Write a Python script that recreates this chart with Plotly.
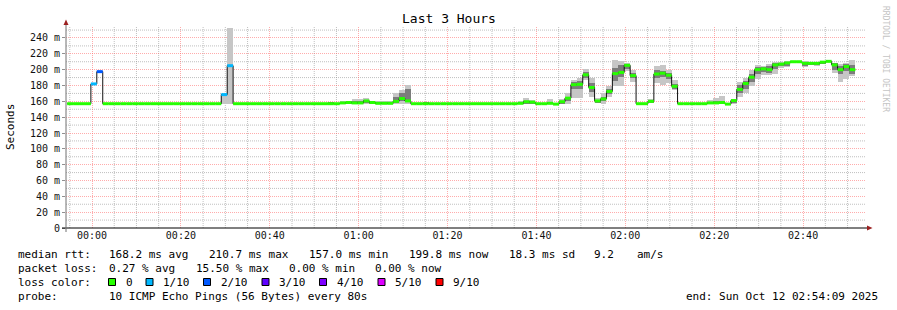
import plotly.graph_objects as go
from datetime import datetime, timedelta

# ---------------- data ----------------
STEP_SECONDS = 80
first_step_start = datetime(2025, 10, 11, 23, 54, 25)
x_range = ["2025-10-11 23:54:09", "2025-10-12 02:54:09"]

# median rtt per 80 s step (ms)
median_ms = [
    157, 157, 157, 157, 182, 197.5, 157, 157, 157, 157,
    157, 157, 157, 157, 157, 157, 157, 157, 157, 157,
    157, 157, 157, 157, 157, 157, 168.5, 205, 157, 157,
    157, 157, 157, 157, 157, 157, 157, 157, 157, 157,
    157, 157, 157, 157, 157, 157, 158, 158.5, 158, 158,
    160.5, 158.5, 157.5, 157.5, 157.5, 160, 163.5, 160.5, 157, 157,
    157, 157, 157, 157, 157, 157, 157, 157, 157, 157,
    157, 157, 157, 157, 157, 157, 157.5, 159.5, 159, 157,
    157, 157.5, 156.5, 159.5, 164, 181, 181.5, 193.5, 177.5, 160.5,
    163, 172.5, 195, 196.5, 205.5, 192.5, 157, 157, 160, 194.5,
    195.5, 193, 179, 157, 157, 157, 157, 157, 158, 158,
    158.5, 156.5, 161, 175, 182.5, 190.5, 200, 201, 200, 206,
    207, 208.5, 210, 210, 208, 208, 208, 209.5, 210.5, 206,
    200, 204, 200,
]

# steps with lost pings (index into median_ms) and number lost out of 10
loss_steps = [4, 5, 26, 27]
loss_counts = [1, 2, 1, 1]

# smoke (spread of the 10 pings) for steps where it is visible
smoke_steps = [26, 27, 44, 46, 47, 48, 49, 50, 51, 52, 53, 54, 55, 56, 57, 60,
               76, 77, 78, 81,
               83, 84, 85, 86, 87, 88, 89, 90, 91, 92, 93, 94, 95,
               98, 99, 100, 101, 102,
               108, 109, 110,
               112, 113, 114, 115, 116, 117, 118, 119, 120, 121,
               124, 125, 126, 127,
               129, 130, 131, 132]
smoke_lo = [156, 156, 156, 156, 156, 156, 156, 156, 156, 156, 156, 156, 156, 156, 156, 156,
            156, 156, 156, 156,
            156, 157, 164, 164, 187, 166, 157.5, 156, 166, 179, 179, 198, 185,
            157.5, 183, 181, 183, 174.5,
            157, 157, 157,
            157, 166, 170.5, 179, 188, 193.5, 193.5, 195, 202, 203.5,
            203.5, 207, 205, 207,
            196, 185, 188, 191.5]
smoke_hi = [169, 253, 159.5, 160, 161, 163, 163, 164.5, 161, 160.5, 160.5, 160.5, 170.5, 174.5, 181, 159.5,
            160.5, 164.5, 162, 163,
            163, 170.5, 186.5, 189.5, 201, 189.5, 164, 170.5, 179.5, 212.5, 211.5, 208.5, 199,
            163, 204, 206, 200, 187,
            162, 164, 167,
            163, 184.5, 189.5, 200, 206, 205, 207.5, 209.5, 209.5, 211.5,
            210.5, 210, 210, 211,
            209, 207.5, 209, 212]
core_lo = [168.5, 205, 157, 157, 157, 157, 157, 158, 157, 157, 157, 157, 158, 160, 161, 157,
           157, 157, 157, 157,
           157, 160, 175, 176, 189, 172, 158, 160, 169, 186, 191, 201, 189,
           158, 189, 191, 188, 176,
           157, 157, 157,
           158, 170, 176, 184, 194, 197, 196, 201, 204, 205,
           205, 207, 206, 208,
           200, 194, 198, 194]
core_hi = [168.5, 205, 158, 159, 160, 160, 160, 162, 159.5, 158.5, 158.5, 158.5, 166, 170, 176, 158,
           158.5, 161, 160, 159,
           161, 166, 185, 186, 197, 183, 162, 166, 176, 202, 206, 207, 196,
           161.5, 199, 198, 196, 182,
           159, 160, 161,
           161, 180, 186, 195, 203, 203, 204, 208, 208.5, 210,
           209.5, 209, 209.5, 210,
           208, 204, 207, 206]

loss_levels = [0, 1, 2, 3, 4, 5, 9]
loss_labels = ["0", "1/10", "2/10", "3/10", "4/10", "5/10", "9/10"]
loss_colors = ["#26ff00", "#00b8ff", "#0059ff", "#5e00ff", "#7e00ff", "#dd00ff", "#ff0000"]

y_tick_vals = [0, 20, 40, 60, 80, 100, 120, 140, 160, 180, 200, 220, 240]
y_tick_labels = ["0", "20 m", "40 m", "60 m", "80 m", "100 m", "120 m", "140 m",
                 "160 m", "180 m", "200 m", "220 m", "240 m"]
x_tick_labels = ["00:00", "00:20", "00:40", "01:00", "01:20", "01:40", "02:00", "02:20", "02:40"]
x_tick_vals = ["2025-10-12 " + t + ":00" for t in x_tick_labels]

title_text = "Last 3 Hours"
y_title = "Seconds"
watermark = "RRDTOOL / TOBI OETIKER"
rtt_stats = [("median rtt:", 16), ("168.2 ms avg", 107), ("210.7 ms max", 207),
             ("157.0 ms min", 306.5), ("199.8 ms now", 406.5), ("18.3 ms sd", 507),
             ("9.2", 592), ("am/s", 635)]
loss_stats = [("packet loss:", 16), ("0.27 % avg", 107), ("15.50 % max", 194),
              ("0.00 % min", 286.5), ("0.00 % now", 372.5)]
probe_text = [("probe:", 16), ("10 ICMP Echo Pings (56 Bytes) every 80s", 107)]
end_text = "end: Sun Oct 12 02:54:09 2025"

# ---------------- geometry ----------------
W, H = 897, 310
L, R, T, B = 66, 31, 27, 82
PW, PH = W - L - R, H - T - B
Y_TOP = 201 / 0.7917


def px(x):
    return (x - L) / PW


def py(y):
    return (H - B - y) / PH


MONO = "DejaVu Sans Mono"
grid_dash = "1px,1px"
major_col = "rgba(255,90,90,0.5)"
minor_col = "rgba(140,140,140,0.55)"

step = timedelta(seconds=STEP_SECONDS)
starts = [first_step_start + i * step for i in range(len(median_ms))]
step_ms = STEP_SECONDS * 1000

fig = go.Figure()

shapes = []
annotations = []

# minor grid (5 min / 10 ms) drawn beneath the data
t_grid = datetime(2025, 10, 11, 23, 55)
while t_grid < datetime(2025, 10, 12, 2, 54):
    if t_grid.minute % 20 != 0:
        shapes.append(dict(type="line", xref="x", yref="paper", x0=t_grid, x1=t_grid,
                           y0=0, y1=1, layer="below",
                           line=dict(color=minor_col, width=1, dash=grid_dash)))
    t_grid += timedelta(minutes=5)
for v in range(10, 260, 20):
    shapes.append(dict(type="line", xref="paper", yref="y", x0=0, x1=1, y0=v, y1=v,
                       layer="below", line=dict(color=minor_col, width=1, dash=grid_dash)))

# smoke
s_x = [starts[k] for k in smoke_steps]
fig.add_trace(go.Bar(x=s_x, y=[h - l for h, l in zip(smoke_hi, smoke_lo)], base=smoke_lo,
                     width=step_ms, offset=0, marker=dict(color="#c6c6c6", line=dict(width=0)),
                     hoverinfo="skip", showlegend=False))
fig.add_trace(go.Bar(x=s_x, y=[h - l for h, l in zip(core_hi, core_lo)], base=core_lo,
                     width=step_ms, offset=0, marker=dict(color="#7c7c7c", line=dict(width=0)),
                     hoverinfo="skip", showlegend=False))

# black median step line
fig.add_trace(go.Scatter(x=starts + [starts[-1] + step], y=median_ms + [median_ms[-1]],
                         mode="lines", line=dict(color="#111111", width=1, shape="hv"),
                         hoverinfo="skip", showlegend=False))

# loss coloured median segments
lost = dict(zip(loss_steps, loss_counts))
for lvl, col in zip(loss_levels, loss_colors):
    xs, ys = [], []
    for i, v in enumerate(median_ms):
        if lost.get(i, 0) == lvl:
            xs += [starts[i], starts[i] + step, None]
            ys += [v, v, None]
    if xs:
        fig.add_trace(go.Scatter(x=xs, y=ys, mode="lines", line=dict(color=col, width=3),
                                 hoverinfo="skip", showlegend=False))

# axes lines and arrows
shapes.append(dict(type="line", xref="paper", yref="paper", x0=px(62), x1=px(868),
                   y0=py(228), y1=py(228), line=dict(color="#000000", width=1)))
shapes.append(dict(type="line", xref="paper", yref="paper", x0=px(66), x1=px(66),
                   y0=py(232), y1=py(24), line=dict(color="#707070", width=1)))
shapes.append(dict(type="path", xref="paper", yref="paper",
                   path=f"M {px(63.5)} {py(25)} L {px(68.5)} {py(25)} L {px(66)} {py(19.5)} Z",
                   fillcolor="#9b2020", line=dict(width=0)))
shapes.append(dict(type="path", xref="paper", yref="paper",
                   path=f"M {px(867)} {py(225.5)} L {px(867)} {py(230.5)} L {px(872.5)} {py(228)} Z",
                   fillcolor="#9b2020", line=dict(width=0)))


def add_text(text, x, y, size=11, color="#000000", angle=0, xanchor="left"):
    annotations.append(dict(text=text, x=px(x), y=py(y), xref="paper", yref="paper",
                            xanchor=xanchor, yanchor="middle", showarrow=False,
                            textangle=angle, font=dict(family=MONO, size=size, color=color)))


for t, x in rtt_stats:
    add_text(t, x, 254.5)
for t, x in loss_stats:
    add_text(t, x, 268.5)
add_text("loss color:", 16, 282)
legend_box_x = [108.5, 146, 203.5, 262, 319.5, 378, 436]
for (lbl, col, bx) in zip(loss_labels, loss_colors, legend_box_x):
    shapes.append(dict(type="rect", xref="paper", yref="paper", x0=px(bx), x1=px(bx + 7),
                       y0=py(285.5), y1=py(278.5), fillcolor=col,
                       line=dict(color="#000000", width=1)))
    add_text(lbl, bx + 15, 282)
for t, x in probe_text:
    add_text(t, x, 296)
add_text(end_text, 880, 296, xanchor="right")

add_text(title_text, 448.5, 19, size=13, xanchor="center")
add_text(y_title, 11, 127, size=11, angle=-90, xanchor="center")
add_text(watermark, 886, 59, size=8, color="#c4c4c4", angle=90, xanchor="center")

fig.update_layout(
    width=W, height=H,
    margin=dict(l=L, r=R, t=T, b=B, pad=0),
    paper_bgcolor="#ffffff", plot_bgcolor="#ffffff",
    barmode="overlay", bargap=0,
    showlegend=False,
    shapes=shapes, annotations=annotations,
    font=dict(family=MONO, size=10, color="#000000"),
    xaxis=dict(type="date", range=x_range, tickmode="array", tickvals=x_tick_vals,
               ticktext=x_tick_labels, showgrid=True, gridcolor=major_col,
               griddash=grid_dash, gridwidth=1, zeroline=False, showline=False,
               ticks="", tickfont=dict(family=MONO, size=10, color="#111111"),
               fixedrange=True),
    yaxis=dict(range=[0, Y_TOP], tickmode="array", tickvals=y_tick_vals, ticktext=y_tick_labels,
               showgrid=True, gridcolor=major_col, griddash=grid_dash, gridwidth=1,
               zeroline=False, showline=False, ticks="outside", ticklen=3, tickcolor="#909090",
               tickfont=dict(family=MONO, size=10, color="#111111"),
               fixedrange=True),
)

fig.write_html("out.html", config={"displayModeBar": False})
